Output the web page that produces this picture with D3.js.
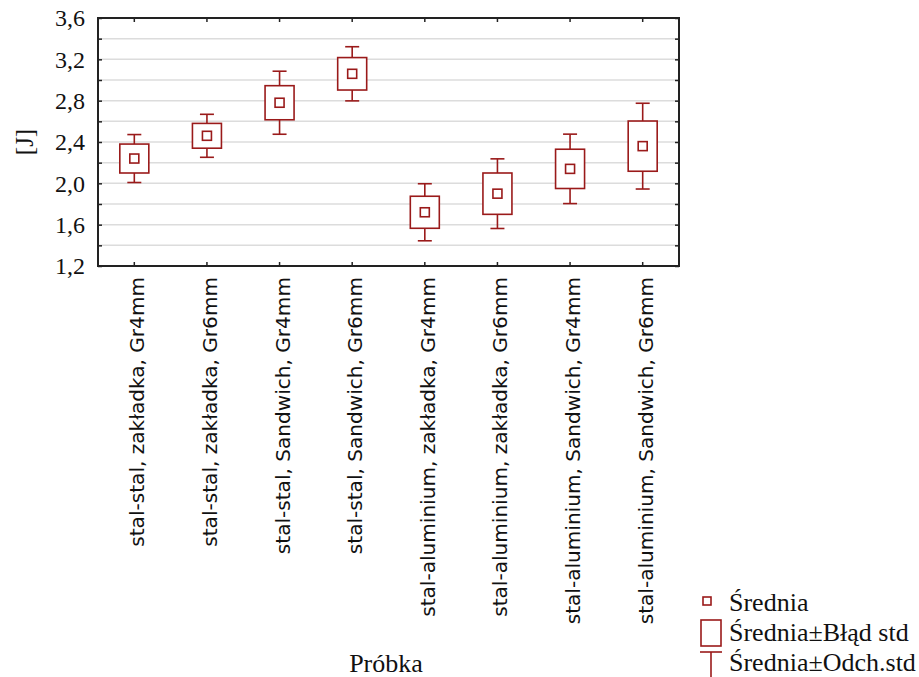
<!DOCTYPE html>
<html>
<head>
<meta charset="utf-8">
<script src="https://cdn.jsdelivr.net/npm/d3@7"></script>
<style>
  html, body { margin: 0; padding: 0; background: #fff; }
  svg { display: block; }
</style>
</head>
<body>
<svg id="chart" width="919" height="677"></svg>
<script>
const categories = [
  "stal-stal, zakładka, Gr4mm",
  "stal-stal, zakładka, Gr6mm",
  "stal-stal, Sandwich, Gr4mm",
  "stal-stal, Sandwich, Gr6mm",
  "stal-aluminium, zakładka, Gr4mm",
  "stal-aluminium, zakładka, Gr6mm",
  "stal-aluminium, Sandwich, Gr4mm",
  "stal-aluminium, Sandwich, Gr6mm"
];
const means = [2.24, 2.46, 2.78, 3.06, 1.72, 1.90, 2.14, 2.36];
const stdErr = [0.14, 0.12, 0.165, 0.157, 0.155, 0.20, 0.19, 0.243];
const stdDev = [0.232, 0.208, 0.305, 0.262, 0.276, 0.337, 0.336, 0.415];
const yTicks = [1.2, 1.6, 2.0, 2.4, 2.8, 3.2, 3.6];
const yGrid = d3.range(12, 37, 2).map(v => v / 10);
const legendLabels = ["Średnia", "Średnia±Błąd std", "Średnia±Odch.std"];
const yTitle = "[J]";
const xTitle = "Próbka";

const svg = d3.select("#chart");
const m = { left: 98, top: 18, right: 679, bottom: 266 };
const red = "#9a1a1a";
const serif = "'Liberation Serif', 'Times New Roman', serif";
const sans = "'DejaVu Sans', Tahoma, sans-serif";

const x = d3.scaleBand().domain(categories).range([m.left, m.right]);
const y = d3.scaleLinear().domain([1.2, 3.6]).range([m.bottom, m.top]);
const fmt = d => d.toFixed(1).replace(".", ",");

// grid
svg.append("g").selectAll("line").data(yGrid.filter(v => v > 1.2 && v < 3.6)).join("line")
  .attr("x1", m.left).attr("x2", m.right)
  .attr("y1", d => y(d)).attr("y2", d => y(d))
  .attr("stroke", "#dcdcdc").attr("stroke-width", 1.5);

// axes with inward ticks
const tickLen = 4;
const gl = svg.append("g").attr("transform", `translate(${m.left},0)`)
  .call(d3.axisRight(y).tickValues(yGrid).tickSize(tickLen).tickFormat(""));
const gr = svg.append("g").attr("transform", `translate(${m.right},0)`)
  .call(d3.axisLeft(y).tickValues(yGrid).tickSize(tickLen).tickFormat(""));
const gt = svg.append("g").attr("transform", `translate(0,${m.top})`)
  .call(d3.axisBottom(x).tickSize(tickLen).tickFormat(""));
const gb = svg.append("g").attr("transform", `translate(0,${m.bottom})`)
  .call(d3.axisTop(x).tickSize(tickLen).tickFormat(""));
[gl, gr, gt, gb].forEach(g => {
  g.select(".domain").remove();
  g.selectAll("line").attr("stroke", "#222").attr("stroke-width", 1.5);
});

// y tick labels
svg.append("g").selectAll("text").data(yTicks).join("text")
  .attr("x", 85).attr("y", d => y(d)).attr("dy", "0.35em")
  .attr("text-anchor", "end")
  .attr("font-family", serif).attr("font-size", 24).attr("fill", "#111")
  .text(fmt);

// frame
svg.append("rect").attr("x", m.left).attr("y", m.top)
  .attr("width", m.right - m.left).attr("height", m.bottom - m.top)
  .attr("fill", "none").attr("stroke", "#222").attr("stroke-width", 2);

// x tick labels
const xl = svg.append("g").selectAll("text").data(categories).join("text")
  .attr("transform", d => `translate(${x(d) + x.bandwidth() / 2 + 3},277) rotate(-90)`)
  .attr("dy", "0.35em")
  .attr("text-anchor", "end")
  .attr("font-family", sans).attr("font-size", 20).attr("fill", "#111")
  .text(d => d);
const len0 = xl.node().getComputedTextLength();
if (len0 > 0) xl.attr("font-size", 20 * 270 / len0);

// titles
svg.append("text").attr("transform", "translate(24,142) rotate(-90)")
  .attr("dy", "0.35em").attr("text-anchor", "middle")
  .attr("font-family", serif).attr("font-size", 25).attr("fill", "#111").text(yTitle);
svg.append("text").attr("x", 386).attr("y", 672)
  .attr("text-anchor", "middle")
  .attr("font-family", serif).attr("font-size", 26).attr("fill", "#111").text(xTitle);

// marks
const boxW = 29, capW = 14, meanS = 9;
const g = svg.append("g").attr("stroke", red).attr("stroke-width", 1.6).attr("fill", "none");
categories.forEach((c, i) => {
  const cx = x(c) + x.bandwidth() / 2;
  const mu = means[i], se = stdErr[i], sd = stdDev[i];
  g.append("line").attr("x1", cx).attr("x2", cx).attr("y1", y(mu + sd)).attr("y2", y(mu + se));
  g.append("line").attr("x1", cx).attr("x2", cx).attr("y1", y(mu - se)).attr("y2", y(mu - sd));
  g.append("line").attr("x1", cx - capW / 2).attr("x2", cx + capW / 2).attr("y1", y(mu + sd)).attr("y2", y(mu + sd));
  g.append("line").attr("x1", cx - capW / 2).attr("x2", cx + capW / 2).attr("y1", y(mu - sd)).attr("y2", y(mu - sd));
  g.append("rect").attr("x", cx - boxW / 2).attr("y", y(mu + se))
    .attr("width", boxW).attr("height", y(mu - se) - y(mu + se)).attr("fill", "#fff");
  g.append("rect").attr("x", cx - meanS / 2).attr("y", y(mu) - meanS / 2)
    .attr("width", meanS).attr("height", meanS);
});

// legend
const lg = svg.append("g");
const ls = lg.append("g").attr("stroke", red).attr("stroke-width", 1.6).attr("fill", "none");
ls.append("rect").attr("x", 703).attr("y", 597).attr("width", 8).attr("height", 8);
ls.append("rect").attr("x", 701).attr("y", 620).attr("width", 20).attr("height", 26);
ls.append("line").attr("x1", 700).attr("x2", 722).attr("y1", 652).attr("y2", 652);
ls.append("line").attr("x1", 711).attr("x2", 711).attr("y1", 652).attr("y2", 677);
lg.selectAll("text").data(legendLabels).join("text")
  .attr("x", 729).attr("y", (d, i) => [611, 641, 671][i])
  .attr("font-family", serif).attr("font-size", 26).attr("fill", "#111")
  .text(d => d);
</script>
</body>
</html>
